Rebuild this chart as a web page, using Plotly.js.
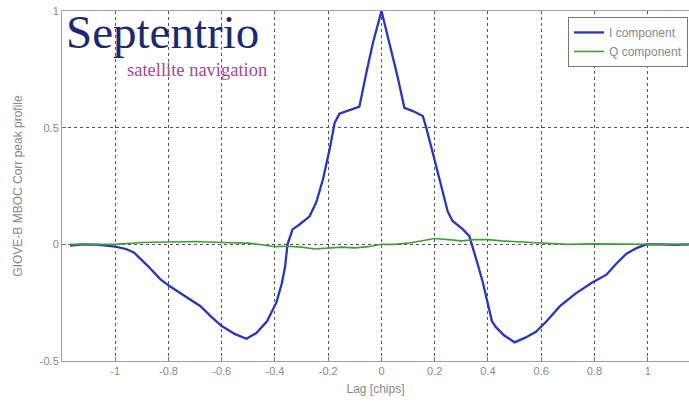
<!DOCTYPE html>
<html>
<head>
<meta charset="utf-8">
<script src="https://cdn.plot.ly/plotly-3.0.1.min.js"></script>
<style>html,body{margin:0;padding:0;background:#fff;}#chart{width:689px;height:401px;}</style>
</head>
<body>
<div id="chart"></div>
<script>
// Lag [chips] and correlation values
const lagI = [-1.17,-1.12,-1.06,-1.0,-0.96,-0.93,-0.88,-0.83,-0.795,-0.74,-0.68,-0.64,-0.60,-0.55,-0.507,-0.47,-0.43,-0.395,-0.375,-0.362,-0.353,-0.334,-0.308,-0.27,-0.245,-0.22,-0.195,-0.176,-0.158,-0.12,-0.083,-0.057,-0.0325,0,0.03,0.06,0.086,0.12,0.155,0.168,0.193,0.224,0.249,0.267,0.305,0.33,0.34,0.36,0.38,0.415,0.43,0.46,0.5,0.54,0.58,0.62,0.67,0.73,0.79,0.845,0.88,0.92,0.96,0.995,1.05,1.1,1.155];
const valI = [-0.005,0.0,-0.002,-0.01,-0.02,-0.035,-0.09,-0.15,-0.18,-0.22,-0.265,-0.31,-0.35,-0.385,-0.405,-0.38,-0.33,-0.25,-0.17,-0.095,0.0,0.064,0.085,0.12,0.18,0.278,0.406,0.52,0.56,0.575,0.59,0.734,0.862,1.0,0.862,0.72,0.585,0.57,0.55,0.5,0.39,0.25,0.14,0.10,0.065,0.035,0.0,-0.08,-0.16,-0.33,-0.355,-0.39,-0.42,-0.40,-0.375,-0.33,-0.265,-0.21,-0.165,-0.13,-0.085,-0.04,-0.015,0.0,0.0,-0.002,0.0];
const lagQ = [-1.17,-1.0,-0.9,-0.8,-0.7,-0.6,-0.5,-0.45,-0.4,-0.35,-0.3,-0.25,-0.2,-0.15,-0.1,-0.05,0,0.05,0.1,0.15,0.2,0.25,0.3,0.35,0.4,0.45,0.5,0.55,0.6,0.7,0.8,0.9,1.0,1.155];
const valQ = [0.0,0.0,0.008,0.01,0.012,0.008,0.005,-0.002,-0.01,-0.008,-0.012,-0.02,-0.015,-0.012,-0.015,-0.01,0.0,0.0,0.005,0.015,0.025,0.02,0.015,0.02,0.02,0.015,0.012,0.008,0.005,0.0,0.002,0.0,0.0,0.0];
const xTicks = [-1,-0.8,-0.6,-0.4,-0.2,0,0.2,0.4,0.6,0.8,1];
const yTicks = [-0.5,0,0.5,1];
const seriesNames = ['I component','Q component'];
const logoName = 'Septentrio';
const logoTagline = 'satellite navigation';

const traces = [
  {x: lagI, y: valI, name: seriesNames[0], type: 'scatter', mode: 'lines',
   line: {color: '#2a36b8', width: 2.3}},
  {x: lagQ, y: valQ, name: seriesNames[1], type: 'scatter', mode: 'lines',
   line: {color: '#3f9e3a', width: 1.6}}
];

const FONT = 'Liberation Sans, Arial, sans-serif';
const SERIF = 'Liberation Serif, Times New Roman, serif';
const axisCommon = {
  showline: true, linecolor: '#9aa6a6', linewidth: 1, mirror: true,
  ticks: 'inside', ticklen: 4, tickcolor: '#777',
  showgrid: true, gridcolor: '#555', griddash: 'dot', gridwidth: 1,
  zeroline: false,
  tickfont: {family: FONT, size: 11, color: '#888'}
};

const layout = {
  width: 689, height: 401,
  margin: {l: 62, r: 0, t: 11, b: 40},
  paper_bgcolor: '#fff', plot_bgcolor: '#fff',
  showlegend: true,
  legend: {x: 0.807, y: 0.983, xanchor: 'left', yanchor: 'top',
    bgcolor: '#fff', bordercolor: '#777', borderwidth: 1,
    font: {family: FONT, size: 12, color: '#888'},
    tracegroupgap: 0},
  xaxis: Object.assign({}, axisCommon, {
    range: [-1.2, 1.155], tickvals: xTicks, ticktext: xTicks.map(String),
    title: {text: 'Lag [chips]', standoff: 8,
      font: {family: FONT, size: 12, color: '#888'}}
  }),
  yaxis: Object.assign({}, axisCommon, {
    range: [-0.5, 1.0], tickvals: yTicks, ticktext: yTicks.map(String),
    title: {text: 'GIOVE-B MBOC Corr peak profile', standoff: 14,
      font: {family: FONT, size: 12, color: '#888'}}
  }),
  annotations: [
    {text: logoName, xref: 'paper', yref: 'paper', x: 0.003, y: 1.0197,
     xanchor: 'left', yanchor: 'top', showarrow: false,
     font: {family: SERIF, size: 47, color: '#1b2a6e'}},
    {text: logoTagline, xref: 'paper', yref: 'paper', x: 0.3305, y: 0.8643,
     xanchor: 'right', yanchor: 'top', showarrow: false,
     font: {family: SERIF, size: 18.5, color: '#a14a8e'}}
  ]
};

Plotly.newPlot('chart', traces, layout, {displayModeBar: false, staticPlot: true});
</script>
</body>
</html>
